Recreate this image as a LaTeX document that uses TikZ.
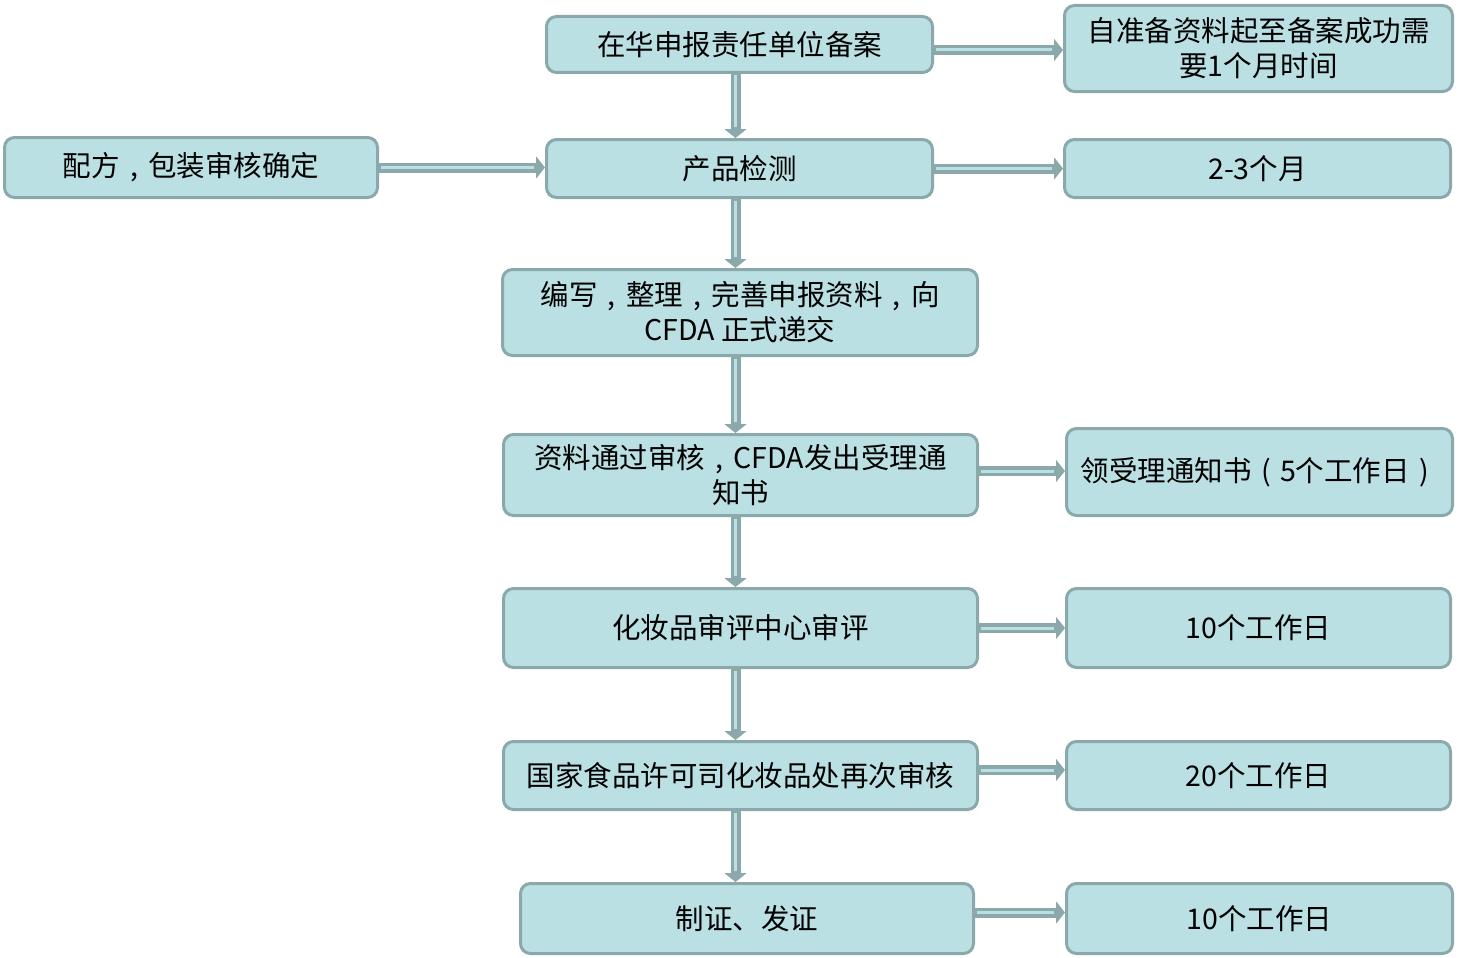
\documentclass[tikz,border=0pt]{standalone}
\usepackage{fontspec}
\setmainfont{Noto Sans CJK SC}
\newcommand{\cm}{\makebox[1em][c]{,}}
\newcommand{\lp}{\makebox[1em][c]{(}}
\newcommand{\rp}{\makebox[1em][c]{)}}
\usetikzlibrary{arrows.meta}
\definecolor{boxfill}{RGB}{187,224,227}
\definecolor{boxline}{RGB}{139,168,171}
\tikzset{
  box/.style={draw=boxline, fill=boxfill, line width=3pt, rounded corners=10pt,
    inner sep=0pt, align=center, text=black,
    font=\fontsize{28.5}{35}\selectfont},
  conn/.style={draw=boxline, line width=10pt,
    -{Triangle[width=22pt,length=9pt]},
    postaction={draw=boxfill, line width=3pt, -, shorten >=11pt, shorten <=1.5pt}}
}
\begin{document}
\begin{tikzpicture}[x=1pt,y=-1pt]
\useasboundingbox (0,0) rectangle (1462,958);
% nodes (outer size minus line width)
\node[box, minimum width=386pt, minimum height=56pt] (n1) at (739.5,44.5) {在华申报责任单位备案};
\node[box, minimum width=388pt, minimum height=86pt] (r1) at (1258.5,48.5) {自准备资料起至备案成功需\\要1个月时间};
\node[box, minimum width=373pt, minimum height=60pt] (l2) at (191,167.5) {配方\cm 包装审核确定};
\node[box, minimum width=386pt, minimum height=58pt] (n2) at (739.5,168.5) {产品检测};
\node[box, minimum width=386pt, minimum height=58pt] (r2) at (1257.5,168.5) {2-3个月};
\node[box, minimum width=475pt, minimum height=86pt] (n3) at (740,312.5) {编写\cm 整理\cm 完善申报资料\cm 向\\CFDA 正式递交};
\node[box, minimum width=474pt, minimum height=81pt] (n4) at (740.5,475) {资料通过审核\cm CFDA发出受理通\\知书};
\node[box, minimum width=386pt, minimum height=87pt] (r4) at (1259.5,472) {领受理通知书\lp 5个工作日\rp};
\node[box, minimum width=474pt, minimum height=79pt] (n5) at (740.5,628) {化妆品审评中心审评};
\node[box, minimum width=384pt, minimum height=79pt] (r5) at (1258.5,628) {10个工作日};
\node[box, minimum width=474pt, minimum height=68pt] (n6) at (740.5,775.5) {国家食品许可司化妆品处再次审核};
\node[box, minimum width=384pt, minimum height=68pt] (r6) at (1258.5,775.5) {20个工作日};
\node[box, minimum width=453pt, minimum height=70pt] (n7) at (747,918.5) {制证、发证};
\node[box, minimum width=386pt, minimum height=70pt] (r7) at (1259.5,918.5) {10个工作日};
\coordinate (vx) at (735.5,0);
% vertical connectors
\draw[conn] (n1.south -| vx) -- (n2.north -| vx);
\draw[conn] (n2.south -| vx) -- (n3.north -| vx);
\draw[conn] (n3.south -| vx) -- (n4.north -| vx);
\draw[conn] (n4.south -| vx) -- (n5.north -| vx);
\draw[conn] (n5.south -| vx) -- (n6.north -| vx);
\draw[conn] (n6.south -| vx) -- (n7.north -| vx);
% horizontal connectors
\draw[conn] ([yshift=-1.5pt]n1.east |- r1.west) -- ([yshift=-1.5pt]r1.west);
\draw[conn] (l2.east) -- (n2.west |- l2.east);
\draw[conn] (n2.east) -- (r2.west);
\draw[conn] ([yshift=1pt]n4.east |- r4.west) -- ([yshift=1pt]r4.west);
\draw[conn] (n5.east) -- (r5.west);
\draw[conn] ([yshift=5.5pt]n6.east) -- ([yshift=5.5pt]r6.west);
\draw[conn] ([yshift=6pt]n7.east) -- ([yshift=6pt]r7.west);
\end{tikzpicture}
\end{document}
